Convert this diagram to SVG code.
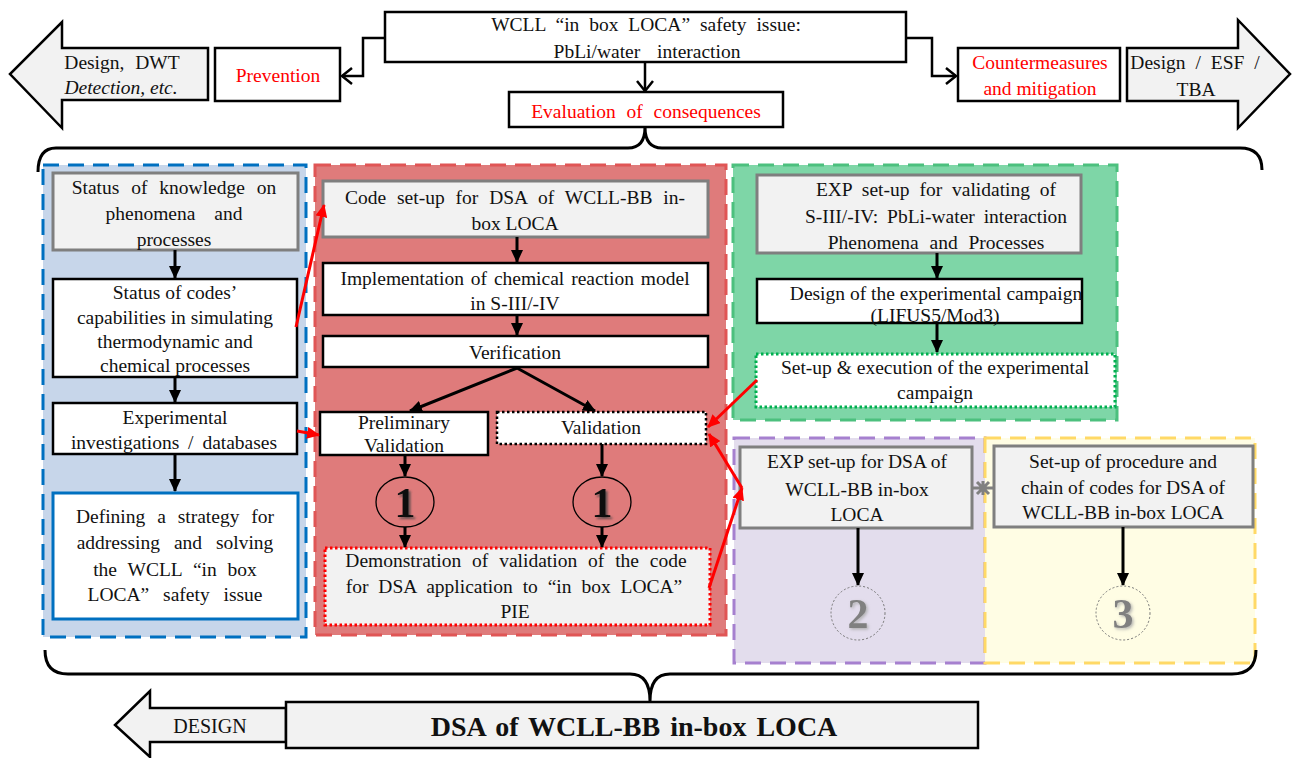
<svg xmlns="http://www.w3.org/2000/svg" width="1292" height="758" viewBox="0 0 1292 758">
<defs>
<marker id="ah" markerUnits="userSpaceOnUse" markerWidth="13" markerHeight="12" refX="12" refY="6" orient="auto"><path d="M0,0 L13,6 L0,12 z" fill="#000"/></marker>
<marker id="ahr" markerUnits="userSpaceOnUse" markerWidth="13" markerHeight="12" refX="12" refY="6" orient="auto"><path d="M0,0 L13,6 L0,12 z" fill="#ff0000"/></marker>
<marker id="chev" markerUnits="userSpaceOnUse" markerWidth="14" markerHeight="18" refX="12" refY="9" orient="auto"><path d="M2,1 L12,9 L2,17" fill="none" stroke="#000" stroke-width="2.5"/></marker>
<filter id="sh" x="-30%" y="-30%" width="160%" height="160%"><feDropShadow dx="2" dy="2" stdDeviation="1.2" flood-color="#444" flood-opacity="0.8"/></filter>
<filter id="sh2" x="-30%" y="-30%" width="160%" height="160%"><feDropShadow dx="1.5" dy="1.5" stdDeviation="1.5" flood-color="#aaa" flood-opacity="0.9"/></filter>
</defs>
<style>
text{font-family:"Liberation Serif","Times New Roman",serif;font-size:19.5px;fill:#111;text-anchor:middle}
text.red{fill:#ff0000}
text.it{font-style:italic}
text.big{font-size:42px;font-weight:bold}
text.grey{fill:#808080}
text.des{font-size:20px}
text.dsa{font-size:28px;font-weight:bold}
.box{fill:#fff;stroke:#000;stroke-width:2.5}
.gbox{fill:#f2f2f2;stroke:#7f7f7f;stroke-width:3}
.barrow{fill:#f2f2f2;stroke:#000;stroke-width:2.5;stroke-linejoin:miter}
.blk{stroke:#000;stroke-width:3;fill:none;marker-end:url(#ah)}
.rc{stroke:#ff0000;stroke-width:3;fill:none;marker-end:url(#ahr)}
.el{stroke:#000;stroke-width:2.5;fill:none;marker-end:url(#chev)}
.brace{stroke:#000;stroke-width:3;fill:none}
.panel{stroke-width:3;stroke-dasharray:16 9}
</style>

<!-- panels -->
<g id="panel-blue"><rect class="panel" x="43" y="165" width="263" height="472" fill="#c7d6ea" stroke="#0070c0"/></g>
<g id="panel-red"><rect class="panel" x="315" y="165" width="411" height="470" fill="#df7b7b" stroke="#e05555"/></g>
<g id="panel-green"><rect class="panel" x="733" y="165" width="384" height="255" fill="#7ed6a7" stroke="#4cc07e"/></g>
<g id="panel-purple"><rect class="panel" x="734" y="438" width="251" height="225" fill="#e3dded" stroke="#a680cf"/></g>
<g id="panel-yellow"><rect class="panel" x="985" y="438" width="270" height="225" fill="#fffde4" stroke="#ffd966"/></g>

<!-- top -->
<g id="top-issue"><rect class="box" x="385" y="12" width="521" height="50"/>
<text x="646" y="31" word-spacing="5">WCLL “in box LOCA” safety issue:</text>
<text x="647" y="58" word-spacing="12">PbLi/water interaction</text></g>
<g id="prevention"><rect class="box" x="215" y="48" width="125" height="53"/><text class="red" x="278" y="82">Prevention</text></g>
<g id="countermeasures"><rect class="box" x="958" y="48" width="162" height="53"/>
<text class="red" x="1040" y="69">Countermeasures</text><text class="red" x="1040" y="95">and mitigation</text></g>
<g id="evaluation"><rect class="box" x="509" y="92" width="274" height="35"/><text class="red" x="646" y="118" word-spacing="6">Evaluation of consequences</text></g>
<g id="design-dwt"><polygon class="barrow" points="208,48 62,48 62,22 10,74 62,128 62,100 208,100"/>
<text x="122" y="69" word-spacing="6">Design, DWT</text><text class="it" x="121" y="94">Detection, etc.</text></g>
<g id="design-esf"><polygon class="barrow" points="1127,48 1238,48 1238,20 1290,74 1238,128 1238,101 1127,101"/>
<text x="1195" y="69" word-spacing="5">Design / ESF /</text><text x="1196" y="96">TBA</text></g>

<!-- blue column -->
<g id="status-knowledge"><rect class="gbox" x="53" y="173" width="245" height="77"/>
<text x="174" y="194" word-spacing="7">Status of knowledge on</text>
<text x="174" y="220" word-spacing="14">phenomena and</text>
<text x="174" y="246">processes</text></g>
<g id="status-codes"><rect class="box" x="53" y="279" width="244" height="98"/>
<text x="175" y="299">Status of codes’</text>
<text x="175" y="324">capabilities in simulating</text>
<text x="175" y="348">thermodynamic and</text>
<text x="175" y="372">chemical processes</text></g>
<g id="experimental-investigations"><rect class="box" x="53" y="403" width="244" height="51"/>
<text x="175" y="424">Experimental</text>
<text x="174" y="449" word-spacing="4">investigations / databases</text></g>
<g id="defining-strategy"><rect x="53" y="493" width="245" height="126" fill="#fff" stroke="#0070c0" stroke-width="3"/>
<text x="175" y="523" word-spacing="7">Defining a strategy for</text>
<text x="175" y="549" word-spacing="9">addressing and solving</text>
<text x="175" y="576" word-spacing="6">the WCLL “in box</text>
<text x="175" y="601" word-spacing="9">LOCA” safety issue</text></g>

<!-- red column -->
<g id="code-setup"><rect class="gbox" x="323" y="181" width="385" height="56"/>
<text x="515" y="204" word-spacing="6">Code set-up for DSA of WCLL-BB in-</text>
<text x="515" y="230">box LOCA</text></g>
<g id="implementation"><rect class="box" x="323" y="263" width="385" height="52"/>
<text x="515" y="285" word-spacing="2">Implementation of chemical reaction model</text>
<text x="515" y="310">in S-III/-IV</text></g>
<g id="verification"><rect class="box" x="323" y="336" width="385" height="31"/><text x="515" y="359">Verification</text></g>
<g id="preliminary-validation"><rect class="box" x="320" y="412" width="168" height="43"/>
<text x="404" y="429">Preliminary</text><text x="404" y="452">Validation</text></g>
<g id="validation"><rect x="497" y="412" width="209" height="32" fill="#fff" stroke="#000" stroke-width="2.5" stroke-dasharray="2.5 2.5"/><text x="601" y="434">Validation</text></g>
<g id="circle-1a"><ellipse cx="405" cy="502" rx="29" ry="25" fill="none" stroke="#000" stroke-width="1.3"/><text class="big" x="405" y="517" filter="url(#sh)">1</text></g>
<g id="circle-1b"><ellipse cx="602" cy="502" rx="29" ry="25" fill="none" stroke="#000" stroke-width="1.3"/><text class="big" x="602" y="517" filter="url(#sh)">1</text></g>
<g id="demonstration"><rect x="325" y="548" width="385" height="77" fill="#f2f2f2" stroke="#ff0000" stroke-width="3" stroke-dasharray="2.5 2.5"/>
<text x="516" y="567" word-spacing="6">Demonstration of validation of the code</text>
<text x="514" y="593" word-spacing="5">for DSA application to “in box LOCA”</text>
<text x="515" y="618">PIE</text></g>

<!-- green column -->
<g id="exp-validating"><rect class="gbox" x="757" y="175" width="324" height="78"/>
<text x="936" y="196" word-spacing="5">EXP set-up for validating of</text>
<text x="936" y="223" word-spacing="4">S-III/-IV: PbLi-water interaction</text>
<text x="936" y="249" word-spacing="6">Phenomena and Processes</text></g>
<g id="design-campaign"><rect class="box" x="757" y="279" width="325" height="44"/>
<text x="936" y="300">Design of the experimental campaign</text>
<text x="935" y="322">(LIFUS5/Mod3)</text></g>
<g id="execution-campaign"><rect x="756" y="354" width="359" height="53" fill="#fff" stroke="#00b050" stroke-width="3" stroke-dasharray="2.5 2.5"/>
<text x="935" y="374">Set-up &amp; execution of the experimental</text>
<text x="935" y="399">campaign</text></g>

<!-- purple / yellow -->
<g id="exp-dsa"><rect class="gbox" x="740" y="447" width="232" height="81"/>
<text x="857" y="468">EXP set-up for DSA of</text>
<text x="857" y="496">WCLL-BB in-box</text>
<text x="857" y="521">LOCA</text></g>
<g id="procedure-chain"><rect class="gbox" x="994" y="446" width="259" height="81"/>
<text x="1123" y="468">Set-up of procedure and</text>
<text x="1123" y="494">chain of codes for DSA of</text>
<text x="1123" y="519">WCLL-BB in-box LOCA</text></g>
<g id="circle-2"><circle cx="858" cy="613" r="27" fill="none" stroke="#777" stroke-width="1" stroke-dasharray="2 2"/><text class="big grey" x="858" y="628" filter="url(#sh2)">2</text></g>
<g id="circle-3"><circle cx="1123" cy="613" r="27" fill="none" stroke="#777" stroke-width="1" stroke-dasharray="2 2"/><text class="big grey" x="1123" y="628" filter="url(#sh2)">3</text></g>

<!-- bottom -->
<g id="design-bottom"><polygon class="barrow" points="286,708 150,708 150,691 115,725 150,757 150,742 286,742"/>
<text class="des" x="210" y="733">DESIGN</text></g>
<g id="dsa"><rect class="barrow" x="286" y="702" width="692" height="46"/>
<text class="dsa" x="634" y="736" word-spacing="3">DSA of WCLL-BB in-box LOCA</text></g>

<!-- connectors -->
<g id="connectors">
<path class="el" d="M385,38 H363 V76 H342"/>
<path class="el" d="M906,38 H932 V76 H956"/>
<path class="el" d="M645,62 V91"/>
<path class="brace" d="M38,172 Q38,148 56,148 L628,148 C640,148 645,140 645,127 C645,140 650,148 662,148 L1240,148 Q1262,148 1262,170"/>
<path class="brace" d="M45,650 Q45,674 68,674 L630,674 C645,674 650,685 650,701 C650,685 655,674 670,674 L1232,674 Q1256,674 1256,650"/>
<path class="blk" d="M175,250 V278"/>
<path class="blk" d="M175,377 V402"/>
<path class="blk" d="M175,454 V491"/>
<path class="blk" d="M517,237 V262"/>
<path class="blk" d="M517,315 V335"/>
<path class="blk" d="M517,368 L410,411"/>
<path class="blk" d="M517,368 L595,411"/>
<path class="blk" d="M405,455 V476"/>
<path class="blk" d="M405,527 V547"/>
<path class="blk" d="M602,444 V476"/>
<path class="blk" d="M602,527 V547"/>
<path class="blk" d="M937,253 V278"/>
<path class="blk" d="M937,323 V352"/>
<path class="blk" d="M858,528 V585"/>
<path class="blk" d="M1123,527 V585"/>
<path class="rc" d="M296,327 L324,205"/>
<path class="rc" d="M297,431 L319,435"/>
<path class="rc" d="M757,380 L708,427"/>
<path class="rc" d="M709,588 L742,488"/>
<path class="rc" d="M742,488 L709,434"/>
<path d="M973,488 H993 M977,482 L989,494 M977,494 L989,482 M983,481 V495" stroke="#808080" stroke-width="3" fill="none"/>
</g>
</svg>
